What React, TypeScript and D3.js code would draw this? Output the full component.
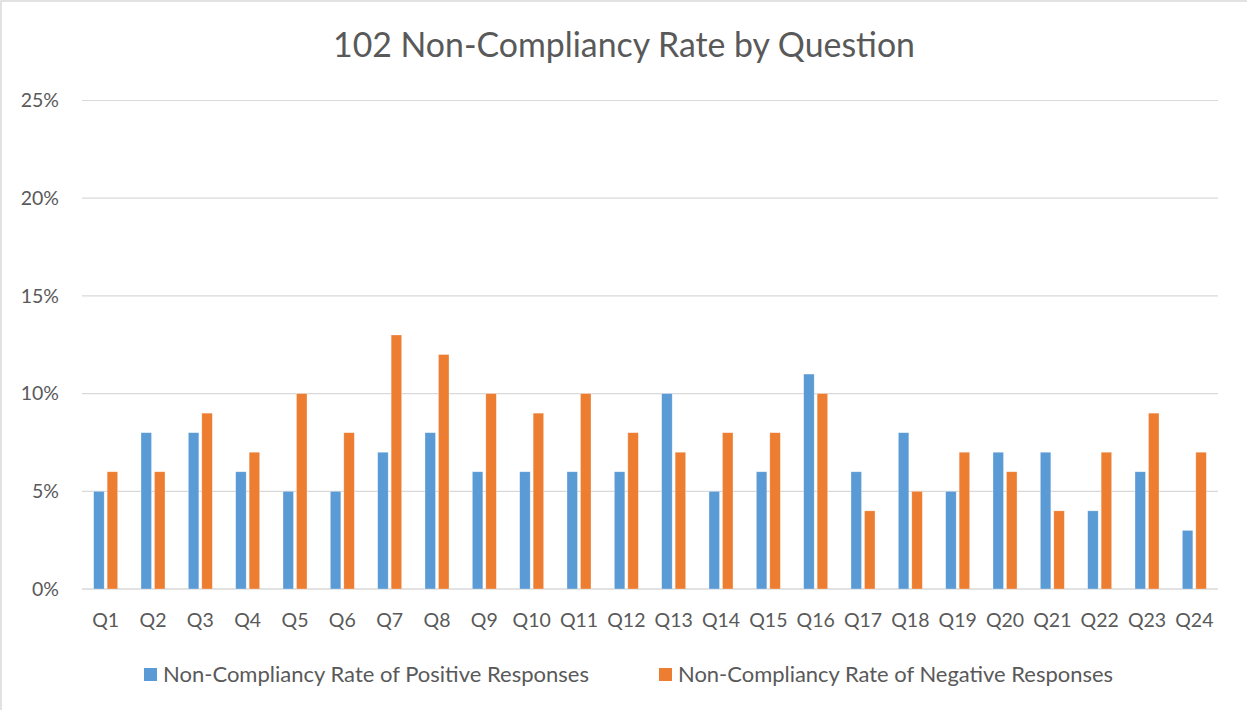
import React from "react";
import * as d3 from "d3";

const categories = ["Q1","Q2","Q3","Q4","Q5","Q6","Q7","Q8","Q9","Q10","Q11","Q12","Q13","Q14","Q15","Q16","Q17","Q18","Q19","Q20","Q21","Q22","Q23","Q24"];
const positiveRates = [5,8,8,6,5,5,7,8,6,6,6,6,10,5,6,11,6,8,5,7,7,4,6,3];
const negativeRates = [6,6,9,7,10,8,13,12,10,9,10,8,7,8,8,10,4,5,7,6,4,7,9,7];
const seriesNames = ["Non-Compliancy Rate of Positive Responses", "Non-Compliancy Rate of Negative Responses"];
const yTicks = [0, 5, 10, 15, 20, 25];

const W = 1247, H = 710;
const FONT = "Lato, 'Open Sans', sans-serif";
const TEXT = "#595959";
const COLORS = ["#5B9BD5", "#ED7D31"];

export default function App() {
  const left = 82, right = 1218, top = 100.5, bottom = 589;
  const x = d3.scaleBand<string>().domain(categories).range([left, right]).paddingInner(0).paddingOuter(0);
  const bw = x.bandwidth();
  const groupW = 24;
  const x1 = d3.scaleBand<string>().domain(["pos", "neg"]).range([(bw - groupW) / 2, (bw + groupW) / 2]).paddingInner(0.22);
  const y = d3.scaleLinear().domain([0, 25]).range([bottom, top]);
  const data = categories.map((c, i) => ({ c, pos: positiveRates[i], neg: negativeRates[i] }));

  return (
    <svg width={W} height={H} style={{ position: "absolute", left: 0, top: 0, background: "#fff" }} fontFamily={FONT}>
      <rect x={1} y={1} width={W + 10} height={H + 10} fill="#fff" stroke="#d9d9d9" strokeWidth={1.5} />
      <text x={624} y={57} textAnchor="middle" fontSize={34} fill={TEXT} textLength={582} lengthAdjust="spacingAndGlyphs">102 Non-Compliancy Rate by Question</text>
      {yTicks.map((t) => (
        <g key={t}>
          <line x1={left} x2={right} y1={y(t)} y2={y(t)} stroke="#d9d9d9" strokeWidth={t === 0 ? 1.5 : 1.2} />
          <text x={59} y={y(t)} dy="0.35em" textAnchor="end" fontSize={19.5} fill={TEXT}>{t}%</text>
        </g>
      ))}
      {data.map((d) => (
        <g key={d.c} transform={`translate(${x(d.c)},0)`}>
          <rect x={x1("pos")} y={y(d.pos)} width={x1.bandwidth()} height={y(0) - y(d.pos)} fill={COLORS[0]} stroke="#fff" strokeOpacity={0.5} strokeWidth={0.6} />
          <rect x={x1("neg")} y={y(d.neg)} width={x1.bandwidth()} height={y(0) - y(d.neg)} fill={COLORS[1]} stroke="#fff" strokeOpacity={0.5} strokeWidth={0.6} />
          <text x={bw / 2} y={620} dy="0.35em" textAnchor="middle" fontSize={19.5} fill={TEXT}>{d.c}</text>
        </g>
      ))}
      <g>
        <rect x={144} y={668} width={13} height={13} fill={COLORS[0]} />
        <text x={163} y={681.5} fontSize={21} fill={TEXT} textLength={426} lengthAdjust="spacingAndGlyphs">{seriesNames[0]}</text>
        <rect x={659} y={668} width={13} height={13} fill={COLORS[1]} />
        <text x={678} y={681.5} fontSize={21} fill={TEXT} textLength={435} lengthAdjust="spacingAndGlyphs">{seriesNames[1]}</text>
      </g>
    </svg>
  );
}
